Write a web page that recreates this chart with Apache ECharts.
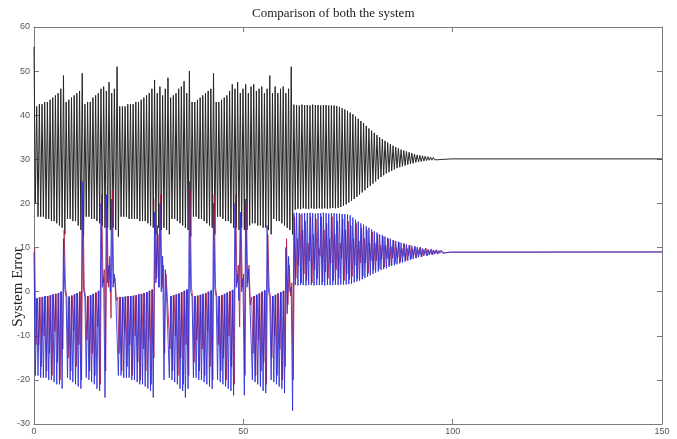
<!DOCTYPE html>
<html>
<head>
<meta charset="utf-8">
<script src="https://cdn.jsdelivr.net/npm/echarts@6/dist/echarts.min.js"></script>
<style>
  html,body{margin:0;padding:0;background:#fff;}
  #chart{width:677px;height:439px;}
</style>
</head>
<body>
<div id="chart"></div>
<script>
// sample spacing of the traces (peak, trough, peak, ...)
var STEP = 0.32;
var SETTLE_X = 62.08;
var xTicks = [0, 50, 100, 150];
var yTicks = [-30, -20, -10, 0, 10, 20, 30, 40, 50, 60];
var levels = {black: 30.1, blue: 9, red: 9};

// black trace, bursting part (pairs peak,trough)
var blackBurst = [
  55.5,20, 42,17, 42.5,17, 42.5,17, 43,16.5, 43,16.5, 43.5,16, 44,16, 44.5,15.5, 45,15, 46,14.5, 49,13,
  43,16.5, 43.5,16.5, 44,16, 44.5,16, 45,15, 45.5,14, 49.5,12.5,
  42.5,17, 43,17, 43,16.5, 44,16.5, 44.5,16, 45,15.5, 46,15, 46.5,14.5, 45.5,14.5, 47.5,14, 45,14.5, 46,14, 51,12.5,
  42,17, 42,17, 42,17, 42.5,16.5, 42.5,16.5, 42.5,16.5, 43,16.5, 43,16, 43.5,16, 44,16, 44.5,15.5, 45,15, 46,14.5, 48,13,
  45,14.5, 46.5,14, 44.5,14.5, 46,14, 48.5,13,
  44,16.5, 44.5,16.5, 45,16, 46,15.5, 46.5,15, 47.7,14.5, 45,14, 50,12.5,
  43,17, 43,17, 43.5,16.5, 44,16.5, 44.5,16, 45,15.5, 45.5,15, 46,14.5, 49.5,13,
  43,17, 43,17, 43.5,16.5, 44,16, 44.5,16, 45.5,15.5, 47,14.5, 46,14.5, 47.5,14, 45,14.5, 46,14, 47,14,
  45,15, 46.5,15.5, 47,15.5, 45.5,15, 46,15, 46.5,14.5, 45,14.5, 46,14, 49,13,
  45,16.5, 46.5,16, 45,16, 46,15.5, 46.5,15, 45,14.5, 46,14, 51,13
];
// black trace, settling part
var blackSettle = [
  42.4,18.6, 42.3,18.8, 42.2,18.7, 42.4,18.9, 42.3,18.8, 42.3,18.7, 42.2,18.9, 42.4,18.8,
  42.3,18.8, 42.3,18.9, 42.2,18.8, 42.3,18.9, 42.3,18.8, 42.2,18.9, 42.2,19, 42.2,18.9,
  42.1,19, 41.9,19.2, 41.6,19.5, 41.3,19.8, 41,20.2, 40.6,20.6, 40.2,21, 39.7,21.5,
  39.2,22, 38.7,22.5, 38.2,23, 37.6,23.5, 37,24, 36.5,24.5, 36,25, 35.5,25.5,
  35,26, 34.6,26.4, 34.2,26.8, 33.8,27.1, 33.4,27.4, 33.1,27.7, 32.8,28, 32.5,28.2,
  32.2,28.4, 32,28.6, 31.8,28.8, 31.6,29, 31.4,29.1, 31.2,29.3, 31,29.4, 30.9,29.5,
  30.8,29.6, 30.7,29.7, 30.6,29.8, 30.5,29.8, 30.4,29.9, 30.35,29.9, 30.3,29.95, 30.25,30,
  30.2,30, 30.15,30.05, 30.1,30.1
];

// blue trace
var blueBurst = [
  9,-19, -1.5,-19, -1.3,-19.5, -1.2,-19.5, -1,-19.5, -1,-20, -0.8,-20, -0.6,-20.5, -0.5,-21, -0.3,-21, 0,-22,
  12,0.5,
  -1.3,-19.5, -1.1,-20, -0.9,-20.5, -0.6,-21, -0.3,-21.5, 0,-22,
  25,0.5,
  -1.2,-19.5, -1,-20, -0.8,-20.5, -0.5,-21, -0.2,-22, 0.2,-22.5,
  20,1, 3,-24, 22,2, 6,0, 21,1, 4,-1,
  -1.3,-19, -1.2,-19, -1.2,-19.5, -1.1,-19.5, -1,-19.5, -1,-20, -0.9,-20, -0.8,-20.5, -0.6,-21, -0.5,-21, -0.3,-21.5, -0.1,-22, 0.2,-22.5, 0.5,-24,
  18,2, 15,1, 20,0, 8,-20, 5,-1,
  -1.2,-19.5, -1,-20, -0.8,-20.5, -0.6,-21, -0.4,-22, -0.1,-22.5, 0.2,-24, 0.5,-22,
  25,0,
  -1.2,-19.5, -1,-19.5, -0.9,-20, -0.7,-20, -0.5,-20.5, -0.3,-21, 0,-21.5, 0.3,-22,
  20,0.5,
  -1.2,-20, -1,-20.5, -0.8,-21, -0.5,-21.5, -0.2,-22, 0.1,-22.5, 0.4,-23.5,
  20,1, 4,-2, 18,0, 3,-23.5, 21,1, 5,-1,
  -1.2,-20, -1,-20.5, -0.7,-21, -0.4,-21.5, 0,-22.5, 0.3,-23,
  15,0,
  -1.2,-20, -1,-20.5, -0.7,-21, -0.4,-21.5, -0.1,-22, 0.2,-23,
  10,-5, 8,0, 1,-27
];
var blueSettle = [
  17.8,1.5, 17.9,1.4, 17.8,1.5, 17.7,1.5, 17.8,1.4, 17.8,1.5, 17.9,1.5, 17.8,1.4, 17.7,1.5, 17.8,1.5,
  17.8,1.5, 17.9,1.4, 17.8,1.5, 17.7,1.5, 17.8,1.5, 17.8,1.6, 17.7,1.5, 17.7,1.6, 17.6,1.6, 17.6,1.6, 17.5,1.7,
  17.3,1.8, 16.8,2.1, 16.3,2.3, 15.9,2.5, 15.5,2.8, 15.2,3.1, 14.8,3.4, 14.5,3.7, 14.1,4, 13.7,4.3,
  13.4,4.6, 13,4.9, 12.8,5.1, 12.5,5.3, 12.2,5.6, 12,5.8, 11.7,6, 11.5,6.2, 11.3,6.4, 11.1,6.6,
  10.9,6.8, 10.7,7, 10.5,7.2, 10.4,7.4, 10.2,7.6, 10.1,7.8, 10,7.9, 9.8,8.1, 9.7,8.2, 9.6,8.3,
  9.5,8.4, 9.45,8.5, 9.4,8.6, 9.3,8.7, 9.25,8.75, 9.2,8.8, 9.1,8.9, 9.05,8.95
];

// red trace (sits under the blue one)
var redBurst = [
  10,-12, -1.5,-12, -1.3,-17, -1.2,-10, -1,-18, -1,-14, -0.8,-19, -0.6,-9, -0.5,-16, -0.3,-20, 0,-13,
  14,1,
  -1.3,-15, -1.1,-18, -0.9,-9, -0.6,-17, -0.3,-12, 0,-20,
  22,1,
  -1.2,-11, -1,-18, -0.8,-14, -0.5,-19, -0.2,-8, 0.2,-21,
  22,2, 5,-18, 19,1, 8,-6, 23,2, 3,-2,
  -1.3,-14, -1.2,-18, -1.2,-9, -1.1,-17, -1,-12, -1,-19, -0.9,-10, -0.8,-16, -0.6,-20, -0.5,-13, -0.3,-18, -0.1,-11, 0.2,-21, 0.5,-15,
  21,3, 13,1, 22,1, 6,-14, 4,-1,
  -1.2,-13, -1,-18, -0.8,-10, -0.6,-19, -0.4,-15, -0.1,-21, 0.2,-12, 0.5,-19,
  23,1,
  -1.2,-16, -1,-11, -0.9,-18, -0.7,-13, -0.5,-19, -0.3,-9, 0,-17, 0.3,-20,
  22,1,
  -1.2,-12, -1,-18, -0.8,-15, -0.5,-20, -0.2,-10, 0.1,-17, 0.4,-21,
  22,2, 6,-8, 17,1, 4,-19, 20,2, 6,-3,
  -1.2,-14, -1,-19, -0.7,-11, -0.4,-18, 0,-16, 0.3,-21,
  13,1,
  -1.2,-15, -1,-10, -0.7,-19, -0.4,-13, -0.1,-20, 0.2,-17,
  12,-3, 6,-1, 2,-20
];
var redSettle = [
  17,3, 12,6, 17.5,2, 14,4, 16,2.5, 11,7, 17,2, 13,5, 16.5,3, 10,8, 17,2.2,
  14,4.5, 15.5,3, 12,6.5, 17,2.5, 13,5, 16,3, 11,7.5, 16.5,2.5, 14,4, 16,2.8,
  15,3.5, 12,6, 15.5,3, 11.5,6.5, 14.5,3.5, 12,6.5, 14,4.2, 11,7, 13.5,4.8, 11,7,
  13,5.2, 10.5,7.4, 12.5,5.6, 10.5,7.5, 12,6, 10.2,7.6, 11.6,6.4, 10,7.8, 11.2,6.8, 9.9,8,
  10.9,7.1, 9.8,8.2, 10.6,7.4, 9.7,8.3, 10.3,7.7, 9.6,8.4, 10.1,7.9, 9.5,8.5, 9.9,8.1, 9.4,8.6,
  9.7,8.3, 9.3,8.7, 9.5,8.5, 9.2,8.8, 9.3,8.7, 9.15,8.85, 9.1,8.9, 9.05,8.95
];

function build(burst, settle, x0, level){
  var d = [];
  burst.forEach(function(v, i){ d.push([x0 + i*STEP, v]); });
  settle.forEach(function(v, i){ d.push([SETTLE_X + x0 + i*STEP, v]); });
  d.push([150, level]);
  return d;
}

function trace(name, data, color, w){
  return {
    name: name, type: 'line', data: data, showSymbol: false, symbol: 'none',
    sampling: null, silent: true, animation: false, xAxisIndex: 0, yAxisIndex: 0,
    lineStyle: {color: color, width: w}
  };
}

var labelStyle = {color: '#555', fontSize: 9, fontFamily: 'Liberation Sans'};
var lineGrey = {color: '#7a7a7a', width: 1};

var option = {
  backgroundColor: '#fff',
  animation: false,
  grid: {left: 34, right: 15, top: 27, bottom: 15},
  xAxis: [
    {type: 'value', min: xTicks[0], max: xTicks[xTicks.length-1], interval: 50, position: 'bottom',
     axisLine: {onZero: false, lineStyle: lineGrey},
     axisTick: {inside: true, length: 5, lineStyle: lineGrey},
     axisLabel: Object.assign({margin: 3}, labelStyle),
     splitLine: {show: false}},
    {type: 'value', min: xTicks[0], max: xTicks[xTicks.length-1], interval: 50, position: 'top',
     axisLine: {onZero: false, lineStyle: lineGrey},
     axisTick: {inside: true, length: 5, lineStyle: lineGrey},
     axisLabel: {show: false}, splitLine: {show: false}}
  ],
  yAxis: [
    {type: 'value', min: yTicks[0], max: yTicks[yTicks.length-1], interval: 10, position: 'left',
     axisLine: {onZero: false, lineStyle: lineGrey},
     axisTick: {inside: true, length: 5, lineStyle: lineGrey},
     axisLabel: Object.assign({margin: 4}, labelStyle),
     splitLine: {show: false}},
    {type: 'value', min: yTicks[0], max: yTicks[yTicks.length-1], interval: 10, position: 'right',
     axisLine: {onZero: false, lineStyle: lineGrey},
     axisTick: {inside: true, length: 5, lineStyle: lineGrey},
     axisLabel: {show: false}, splitLine: {show: false}}
  ],
  graphic: [
    {type: 'text', left: 252, top: 7,
     style: {text: 'Comparison of both the system', fill: '#222', font: '13px "Liberation Serif"'}},
    {type: 'text', x: 11, y: 287, rotation: Math.PI/2, originX: 0, originY: 0,
     style: {text: 'System Error', fill: '#222', font: '15px "Liberation Serif"', textAlign: 'center', textVerticalAlign: 'top'}}
  ],
  series: [
    trace('system 1', build(blackBurst, blackSettle, 0, levels.black), '#262626', 1),
    trace('red', build(redBurst, redSettle, STEP/2, levels.red), '#b0183a', 0.8),
    trace('blue', build(blueBurst, blueSettle, 0, levels.blue), '#2a2ad8', 0.85)
  ]
};

var chart = echarts.init(document.getElementById('chart'), null, {renderer: 'canvas'});
chart.setOption(option);
</script>
</body>
</html>
